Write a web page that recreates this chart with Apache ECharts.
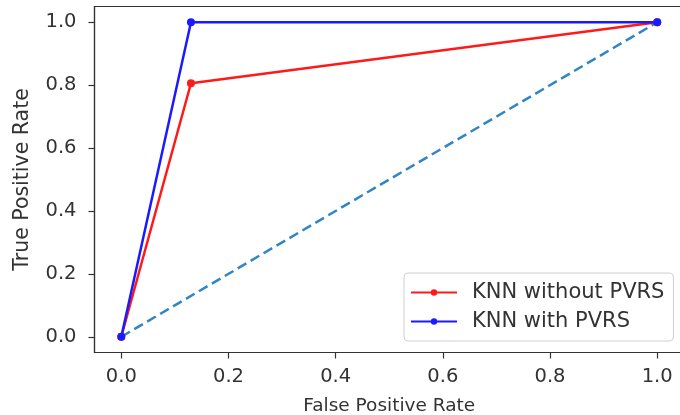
<!DOCTYPE html>
<html>
<head>
<meta charset="utf-8">
<script src="https://cdn.jsdelivr.net/npm/echarts@6/dist/echarts.min.js"></script>
<style>html,body{margin:0;padding:0;background:#fff}#c{width:680px;height:415px}</style>
</head>
<body>
<div id="c"></div>
<script>
const tickValues = [0.0, 0.2, 0.4, 0.6, 0.8, 1.0];
const fprWithout = [0.0, 0.13, 1.0];
const tprWithout = [0.0, 0.806, 1.0];
const fprWith = [0.0, 0.13, 1.0];
const tprWith = [0.0, 1.0, 1.0];
const diagX = [0.0, 1.0];
const diagY = [0.0, 1.0];
const seriesNames = ['KNN without PVRS', 'KNN with PVRS'];

const pairs = (xs, ys) => xs.map((x, i) => [x, ys[i]]);
const font = 'DejaVu Sans';
const fmt = v => v.toFixed(1);

const chart = echarts.init(document.getElementById('c'), null, {renderer: 'canvas'});
chart.setOption({
  animation: false,
  backgroundColor: '#fff',
  grid: {left: 94.5, top: 6.5, right: -4, height: 346, outerBoundsMode: 'none', containLabel: false,
         show: true, borderColor: '#333', borderWidth: 1.2, backgroundColor: 'transparent'},
  xAxis: {
    type: 'value', min: -0.05, max: 1.05,
    name: 'False Positive Rate', nameLocation: 'middle', nameGap: 44,
    nameTextStyle: {fontFamily: font, fontSize: 18.5, color: '#333'},
    axisLine: {show: true, onZero: false, lineStyle: {color: '#333', width: 1.2}},
    axisTick: {show: true, length: 6, customValues: tickValues, lineStyle: {color: '#333', width: 1.2}},
    axisLabel: {customValues: tickValues, formatter: fmt, fontFamily: font, fontSize: 19.5, color: '#333', margin: 14},
    splitLine: {show: false}
  },
  yAxis: {
    type: 'value', min: -0.05, max: 1.05,
    name: 'True Positive Rate', nameLocation: 'middle', nameGap: 61,
    nameTextStyle: {fontFamily: font, fontSize: 20.5, color: '#333'},
    axisLine: {show: true, onZero: false, lineStyle: {color: '#333', width: 1.2}},
    axisTick: {show: true, length: 6, customValues: tickValues, lineStyle: {color: '#333', width: 1.2}},
    axisLabel: {customValues: tickValues, formatter: fmt, fontFamily: font, fontSize: 19.5, color: '#333', margin: 18},
    splitLine: {show: false}
  },
  legend: {
    orient: 'vertical', left: 404, top: 273,
    data: seriesNames,
    itemWidth: 46, itemHeight: 8, itemGap: 8,
    padding: [9, 9, 9, 6],
    borderColor: '#d0d0d0', borderWidth: 1, borderRadius: 4,
    backgroundColor: 'rgba(255,255,255,0.8)',
    textStyle: {fontFamily: font, fontSize: 21, color: '#333', padding: [0, 0, 0, 10]}
  },
  series: [
    {
      type: 'line', name: 'diag', data: pairs(diagX, diagY), symbol: 'none',
      lineStyle: {color: '#2f86c3', width: 2.5, type: [10, 5]}, silent: true
    },
    {
      type: 'line', name: seriesNames[0], data: pairs(fprWithout, tprWithout),
      symbol: 'circle', symbolSize: 8, color: '#ff1a1a',
      lineStyle: {color: '#ff1a1a', width: 2.5}, itemStyle: {color: '#ff1a1a'}
    },
    {
      type: 'line', name: seriesNames[1], data: pairs(fprWith, tprWith),
      symbol: 'circle', symbolSize: 8, color: '#1a1aff',
      lineStyle: {color: '#1a1aff', width: 2.5}, itemStyle: {color: '#1a1aff'}
    }
  ]
});
</script>
</body>
</html>
